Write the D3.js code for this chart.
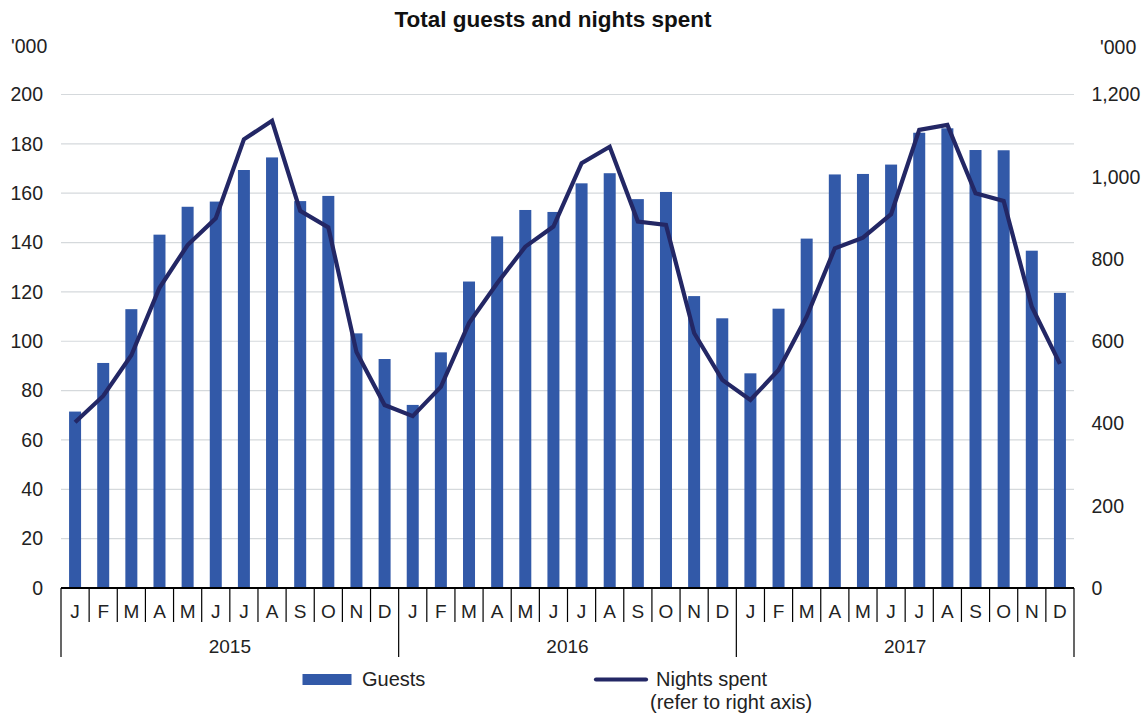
<!DOCTYPE html>
<html><head><meta charset="utf-8">
<script src="https://cdn.jsdelivr.net/npm/d3@7"></script>
<style>body{margin:0;background:#fff;}svg{display:block;font-family:"Liberation Sans",Arial,sans-serif;}</style>
</head><body>
<svg id="c" width="1148" height="715"></svg>
<script>
const years = ["2015","2016","2017"];
const monthLabels = ["J","F","M","A","M","J","J","A","S","O","N","D"];
const guests = [71.5,91.2,113,143.2,154.5,156.6,169.4,174.5,156.8,158.9,103.2,92.8,
  74.2,95.5,124.2,142.5,153.2,152.4,164,168.1,157.6,160.5,118.3,109.3,
  87,113.2,141.6,167.6,167.8,171.6,184.5,186.3,177.5,177.4,136.7,119.6];
const nights = [403,467,566,730,834,899,1091,1136,917,877,574,445,
  418,489,644,741,830,879,1033,1073,891,883,620,506,
  457,530,660,826,852,909,1114,1126,960,941,684,545];
const leftTicks = [0,20,40,60,80,100,120,140,160,180,200];
const rightTicks = [0,200,400,600,800,1000,1200];

const svg = d3.select("#c");
const L = 61, R = 1074, T = 94.5, B = 588;
const FONT = "Liberation Sans, Arial, sans-serif";
const idx = d3.range(years.length*12);
const x = d3.scaleBand().domain(idx).range([L,R]).paddingInner(0).paddingOuter(0);
const yL = d3.scaleLinear().domain([0,200]).range([B,T]);
const yR = d3.scaleLinear().domain([0,1200]).range([B,T]);

// title
svg.append("text").attr("x",553).attr("y",27).attr("text-anchor","middle")
  .attr("font-size",22.5).attr("font-weight","bold").attr("fill","#111").text("Total guests and nights spent");
svg.append("text").attr("x",11).attr("y",53).attr("font-size",19.5).attr("fill","#222").text("'000");
svg.append("text").attr("x",1100).attr("y",54).attr("font-size",19.5).attr("fill","#222").text("'000");

// gridlines
svg.append("g").selectAll("line").data(leftTicks.filter(d=>d>0)).join("line")
  .attr("x1",L).attr("x2",R).attr("y1",d=>yL(d)).attr("y2",d=>yL(d))
  .attr("stroke","#d5d9dc").attr("stroke-width",1.2);

// left axis
const gl = svg.append("g").attr("transform",`translate(${L},0)`)
  .call(d3.axisLeft(yL).tickValues(leftTicks).tickSize(0).tickPadding(18).tickFormat(d3.format("d")));
gl.select(".domain").remove();
gl.selectAll("text").attr("font-size",19.5).attr("fill","#222").attr("font-family",FONT);

// right axis
const gr = svg.append("g").attr("transform",`translate(${R},0)`)
  .call(d3.axisRight(yR).tickValues(rightTicks).tickSize(0).tickPadding(17.5).tickFormat(d3.format(",")));
gr.select(".domain").remove();
gr.selectAll("text").attr("font-size",19.5).attr("fill","#222").attr("font-family",FONT);

// bars
const bw = 12;
svg.append("g").selectAll("rect").data(guests).join("rect")
  .attr("x",(d,i)=>x(i)+x.bandwidth()/2-bw/2).attr("width",bw)
  .attr("y",d=>yL(d)).attr("height",d=>B-yL(d))
  .attr("fill","#3259a8");

// line
svg.append("path").datum(nights)
  .attr("d",d3.line().x((d,i)=>x(i)+x.bandwidth()/2).y(d=>yR(d)))
  .attr("fill","none").attr("stroke","#232765").attr("stroke-width",4.2).attr("stroke-linejoin","miter");

// x axis month ticks
const gx = svg.append("g");
gx.selectAll("line.m").data(idx.concat([idx.length])).join("line")
  .attr("x1",i=>i<idx.length?x(i):R).attr("x2",i=>i<idx.length?x(i):R)
  .attr("y1",B).attr("y2",i=>(i%12===0)?657:622)
  .attr("stroke","#000").attr("stroke-width",1.2);
gx.selectAll("text.m").data(idx).join("text")
  .attr("x",i=>x(i)+x.bandwidth()/2).attr("y",618).attr("text-anchor","middle")
  .attr("font-size",19).attr("fill","#222").text(i=>monthLabels[i%12]);
gx.selectAll("text.y").data(years).join("text")
  .attr("x",(d,k)=>(x(k*12)+ (k*12+12<idx.length?x(k*12+12):R))/2).attr("y",653).attr("text-anchor","middle")
  .attr("font-size",19).attr("fill","#222").text(d=>d);
gx.append("line").attr("x1",L).attr("x2",R).attr("y1",B).attr("y2",B).attr("stroke","#000").attr("stroke-width",2.2);

// legend
const lg = svg.append("g");
lg.append("rect").attr("x",302.5).attr("y",674).attr("width",49).attr("height",11).attr("fill","#3259a8");
lg.append("text").attr("x",362).attr("y",686).attr("font-size",20).attr("fill","#222").text("Guests");
lg.append("line").attr("x1",596).attr("x2",646).attr("y1",679.5).attr("y2",679.5)
  .attr("stroke","#232765").attr("stroke-width",4.2).attr("stroke-linecap","round");
lg.append("text").attr("x",656).attr("y",686).attr("font-size",20).attr("fill","#222").text("Nights spent");
lg.append("text").attr("x",650).attr("y",709).attr("font-size",20).attr("fill","#222").text("(refer to right axis)");
</script>
</body></html>
